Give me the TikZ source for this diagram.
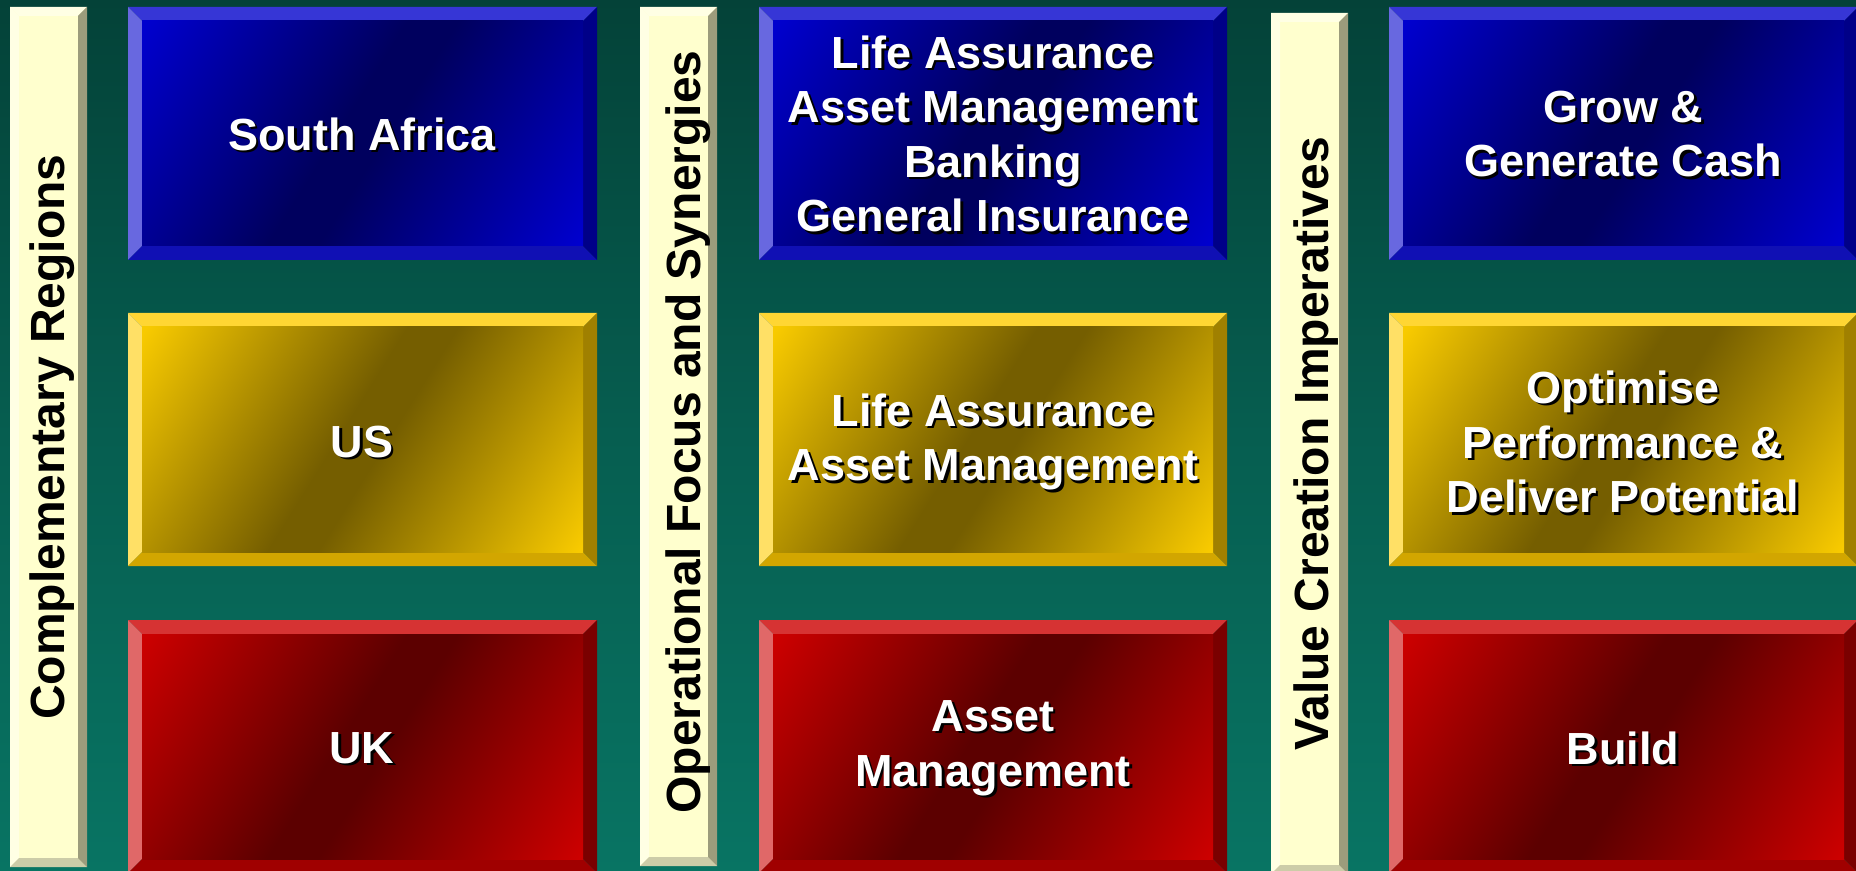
\documentclass[tikz,border=0pt]{standalone}
\usepackage{fontspec}
\setmainfont{Liberation Sans}
\definecolor{bgtop}{RGB}{4,66,56}
\definecolor{bgmid}{RGB}{6,94,80}
\definecolor{bgbot}{RGB}{8,116,99}
% blue
\definecolor{bluetop}{RGB}{54,54,214}
\definecolor{blueleft}{RGB}{104,104,224}
\definecolor{bluebot}{RGB}{16,16,180}
\definecolor{blueright}{RGB}{0,0,136}
\definecolor{bluebright}{RGB}{0,0,206}
\definecolor{bluedark}{RGB}{0,0,94}
% yellow
\definecolor{yeltop}{RGB}{255,214,51}
\definecolor{yelleft}{RGB}{255,224,102}
\definecolor{yelbot}{RGB}{210,166,0}
\definecolor{yelright}{RGB}{160,128,0}
\definecolor{yelbright}{RGB}{248,202,0}
\definecolor{yeldark}{RGB}{117,94,0}
% red
\definecolor{redtop}{RGB}{214,51,51}
\definecolor{redleft}{RGB}{224,104,104}
\definecolor{redbot}{RGB}{160,0,0}
\definecolor{redright}{RGB}{122,0,0}
\definecolor{redbright}{RGB}{204,0,0}
\definecolor{reddark}{RGB}{92,0,0}
% cream bars
\definecolor{creamface}{RGB}{255,255,206}
\definecolor{creamlight}{RGB}{255,255,228}
\definecolor{creamright}{RGB}{156,156,124}
\definecolor{creambot}{RGB}{204,204,168}

\pgfdeclareverticalshading{blueshade}{100bp}{color(0bp)=(bluebright); color(16bp)=(bluebright); color(47bp)=(bluedark); color(53bp)=(bluedark); color(84bp)=(bluebright); color(100bp)=(bluebright)}
\pgfdeclareverticalshading{yelshade}{100bp}{color(0bp)=(yelbright); color(16bp)=(yelbright); color(47bp)=(yeldark); color(53bp)=(yeldark); color(84bp)=(yelbright); color(100bp)=(yelbright)}
\pgfdeclareverticalshading{redshade}{100bp}{color(0bp)=(redbright); color(16bp)=(redbright); color(47bp)=(reddark); color(53bp)=(reddark); color(84bp)=(redbright); color(100bp)=(redbright)}

\newcommand{\bevelbox}[5]{%
  \fill[#5top] (#1,#2) -- (#3,#2) -- (#3-14,#2+14) -- (#1+14,#2+14) -- cycle;
  \fill[#5left] (#1,#2) -- (#1+14,#2+14) -- (#1+14,#4-14) -- (#1,#4) -- cycle;
  \fill[#5bot] (#1,#4) -- (#1+14,#4-14) -- (#3-14,#4-14) -- (#3,#4) -- cycle;
  \fill[#5right] (#3,#2) -- (#3,#4) -- (#3-14,#4-14) -- (#3-14,#2+14) -- cycle;
  \shade[shading=#5shade, shading angle=58]
    (#1+14,#2+14) rectangle (#3-14,#4-14);
}
\newcommand{\creambar}[4]{%
  \fill[creamface] (#1,#2) rectangle (#3,#4);
  \fill[creamlight] (#1,#2) -- (#3,#2) -- (#3-9,#2+9) -- (#1+9,#2+9) -- cycle;
  \fill[creamlight] (#1,#2) -- (#1+9,#2+9) -- (#1+9,#4-9) -- (#1,#4) -- cycle;
  \fill[creambot] (#1,#4) -- (#1+9,#4-9) -- (#3-9,#4-9) -- (#3,#4) -- cycle;
  \fill[creamright] (#3,#2) -- (#3,#4) -- (#3-9,#4-9) -- (#3-9,#2+9) -- cycle;
}
\newcommand{\shtext}[4]{%
  \node[boxtext, text=black] (#1s) at (#2+2.5,#3+2.5) {#4};
  \node[boxtext, text=white] (#1) at (#2,#3) {#4};
}
\tikzset{
  boxtext/.style={inner sep=0pt, align=center,
    font=\fontsize{22.5}{27.3}\selectfont\bfseries},
  bartext/.style={inner sep=0pt, anchor=base, rotate=90, text=black,
    font=\fontsize{24}{28}\selectfont\bfseries}
}
\begin{document}
\begin{tikzpicture}[x=0.5pt,y=-0.5pt]
\useasboundingbox (0,0) rectangle (1856,871);
\clip (0,0) rectangle (1856,871);
\shade[top color=bgtop, bottom color=bgbot, middle color=bgmid] (0,0) rectangle (1856,871);

% cream bars
\creambar{10}{7}{87}{867}
\creambar{640}{7}{717}{866}
\creambar{1271}{13}{1348}{874}
\node[bartext] (t1) at (64,437) {Complementary Regions};
\node[bartext] (t2) at (700,432) {Operational Focus and Synergies};
\node[bartext] (t3) at (1328,444) {Value Creation Imperatives};

% column 1
\bevelbox{128}{7}{597}{260}{blue}
\bevelbox{128}{313}{597}{566}{yel}
\bevelbox{128}{620}{597}{873}{red}
% column 2
\bevelbox{759}{7}{1227}{260}{blue}
\bevelbox{759}{313}{1227}{566}{yel}
\bevelbox{759}{620}{1227}{873}{red}
% column 3
\bevelbox{1389}{7}{1858}{260}{blue}
\bevelbox{1389}{313}{1858}{566}{yel}
\bevelbox{1389}{620}{1858}{873}{red}

\shtext{a1}{362}{134}{South Africa}
\shtext{a2}{362}{442}{US}
\shtext{a3}{362}{748}{UK}
\shtext{b1}{993}{134}{Life Assurance\\Asset Management\\Banking\\General Insurance}
\shtext{b2}{993}{442}{Life Assurance\\Asset Management}
\shtext{b3}{993}{748}{Asset\\Management}
\shtext{c1}{1623}{134}{Grow \&\\Generate Cash}
\shtext{c2}{1623}{442}{Optimise\\Performance \&\\Deliver Potential}
\shtext{c3}{1623}{748}{Build}
\end{tikzpicture}
\end{document}
